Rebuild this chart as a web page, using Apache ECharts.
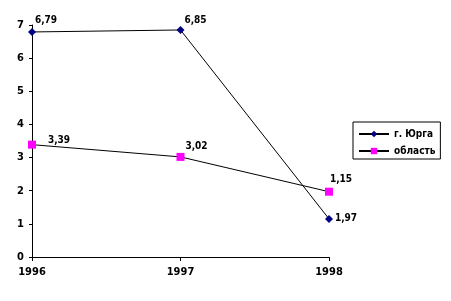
<!DOCTYPE html>
<html><head><meta charset="utf-8">
<script src="https://cdn.jsdelivr.net/npm/echarts@6/dist/echarts.min.js"></script>
<style>html,body{margin:0;padding:0;background:#fff}#c{width:451px;height:301px}</style>
</head><body><div id="c"></div>
<script>
const categories = ['1996', '1997', '1998'];
const yurgaValues = [6.79, 6.85, 1.15];
const yurgaLabels = ['6,79', '6,85', '1,97'];
const oblastValues = [3.39, 3.02, 1.97];
const oblastLabels = ['3,39', '3,02', '1,15'];
const yTicks = [0, 1, 2, 3, 4, 5, 6, 7];

const FONT = '"DejaVu Sans Condensed", "DejaVu Sans", sans-serif';
const yurgaOffsets = [[14, -12], [15, -10], [17, 0]];
const oblastOffsets = [[27, -4], [16, -11], [12, -12]];

function items(values, labels, offsets) {
  return values.map((v, i) => ({
    value: v,
    label: { formatter: labels[i], offset: offsets[i] }
  }));
}

const chart = echarts.init(document.getElementById('c'), null, { renderer: 'canvas' });
chart.setOption({
  backgroundColor: '#fff',
  animation: false,
  grid: { left: 32, right: 122, top: 25, bottom: 44, containLabel: false },
  xAxis: {
    type: 'category', data: categories, boundaryGap: false,
    axisLine: { lineStyle: { color: '#000', width: 1 } },
    axisTick: { show: true, length: 4, lineStyle: { color: '#000' } },
    axisLabel: { color: '#000', fontFamily: FONT, fontWeight: 'bold', fontSize: 11, margin: 10 },
    splitLine: { show: false }
  },
  yAxis: {
    type: 'value', min: yTicks[0], max: yTicks[yTicks.length - 1], interval: 1,
    axisLine: { show: true, lineStyle: { color: '#000', width: 1 } },
    axisTick: { show: true, length: 3, lineStyle: { color: '#000' } },
    axisLabel: { color: '#000', fontFamily: FONT, fontWeight: 'bold', fontSize: 11, margin: 8 },
    splitLine: { show: false }
  },
  legend: {
    orient: 'vertical', left: 353, top: 122,
    backgroundColor: '#fff',
    borderColor: '#000', borderWidth: 1, borderRadius: 0,
    padding: [7, 5, 3, 5], itemGap: 7,
    itemWidth: 30, itemHeight: 8,
    textStyle: { color: '#000', fontFamily: FONT, fontWeight: 'bold', fontSize: 10 },
    data: ['г. Юрга', 'область']
  },
  series: [
    {
      name: 'г. Юрга', type: 'line',
      data: items(yurgaValues, yurgaLabels, yurgaOffsets),
      symbol: 'diamond', symbolSize: 8,
      lineStyle: { color: '#000', width: 1 },
      itemStyle: { color: '#000080' },
      label: { show: true, position: 'inside', color: '#000', fontFamily: FONT, fontWeight: 'bold', fontSize: 10 }
    },
    {
      name: 'область', type: 'line',
      data: items(oblastValues, oblastLabels, oblastOffsets),
      symbol: 'rect', symbolSize: 8,
      lineStyle: { color: '#000', width: 1 },
      itemStyle: { color: '#ff00ff' },
      label: { show: true, position: 'inside', color: '#000', fontFamily: FONT, fontWeight: 'bold', fontSize: 10 }
    }
  ]
});
</script></body></html>
